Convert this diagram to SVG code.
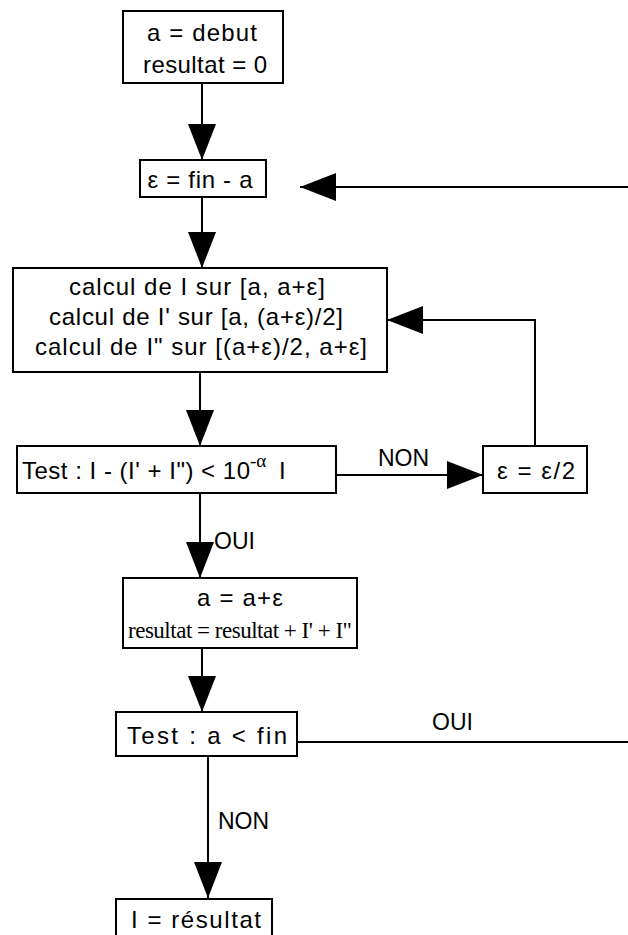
<svg xmlns="http://www.w3.org/2000/svg" width="628" height="935" viewBox="0 0 628 935">
<style>
.box{fill:#fff;stroke:#000;stroke-width:2}
.t{font-family:"Liberation Sans",Arial,sans-serif;font-size:24px;fill:#000;text-anchor:middle}
.ts{font-family:"Liberation Sans",Arial,sans-serif;font-size:24px;fill:#000}
.sup{font-family:"Liberation Serif","Times New Roman",serif;font-size:19px;fill:#000}
.s{font-family:"Liberation Serif","Times New Roman",serif;font-size:23px;fill:#000;text-anchor:middle}
.lbl{font-family:"Liberation Sans",Arial,sans-serif;font-size:23px;fill:#000}
.c{fill:none;stroke:#000;stroke-width:2}
</style>
<defs>
<marker id="ah" markerUnits="userSpaceOnUse" markerWidth="40" markerHeight="30" refX="36" refY="14" orient="auto">
<path d="M0,0 L36,14 L0,28 z" fill="#000"/>
</marker>
</defs>
<rect width="628" height="935" fill="#fff"/>
<g id="connectors">
<path class="c" d="M202,83 V160" marker-end="url(#ah)"/>
<path class="c" d="M628,187 H300" marker-end="url(#ah)"/>
<path class="c" d="M202,197 V268" marker-end="url(#ah)"/>
<path class="c" d="M535,446 V320 H387" marker-end="url(#ah)"/>
<path class="c" d="M200,372 V446" marker-end="url(#ah)"/>
<path class="c" d="M336,475 H483" marker-end="url(#ah)"/>
<path class="c" d="M200,493 V578" marker-end="url(#ah)"/>
<path class="c" d="M202,648 V712" marker-end="url(#ah)"/>
<path class="c" d="M297,742 H628"/>
<path class="c" d="M208,756 V898" marker-end="url(#ah)"/>
<text class="lbl" x="378" y="466">NON</text>
<text class="lbl" x="214" y="549">OUI</text>
<text class="lbl" x="432" y="730">OUI</text>
<text class="lbl" x="218" y="829">NON</text>
</g>
<g id="n1">
<rect class="box" x="123" y="11" width="160" height="72"/>
<text class="t" x="202" y="41" textLength="110">a = debut</text>
<text class="t" x="205" y="73" textLength="124">resultat = 0</text>
</g>
<g id="n2">
<rect class="box" x="140" y="160" width="126" height="37"/>
<text class="t" x="200" y="188" textLength="105">ε = fin - a</text>
</g>
<g id="n3">
<rect class="box" x="13" y="268" width="374" height="104"/>
<text class="t" x="197" y="295" textLength="256">calcul de I sur [a, a+ε]</text>
<text class="t" x="196" y="325" textLength="294">calcul de I' sur [a, (a+ε)/2]</text>
<text class="t" x="201" y="355" textLength="332">calcul de I" sur [(a+ε)/2, a+ε]</text>
</g>
<g id="n4">
<rect class="box" x="17" y="446" width="319" height="47"/>
<text class="ts" x="22" y="479" textLength="228">Test : I - (I' + I") &lt; 10</text>
<text class="sup" x="250" y="467">-α</text>
<text class="ts" x="279" y="479">I</text>
</g>
<g id="n5">
<rect class="box" x="483" y="446" width="104" height="47"/>
<text class="t" x="536" y="479" textLength="78">ε = ε/2</text>
</g>
<g id="n6">
<rect class="box" x="123" y="578" width="234" height="70"/>
<text class="t" x="240" y="606" textLength="86">a = a+ε</text>
<text class="s" x="240" y="638" textLength="224">resultat = resultat + I' + I"</text>
</g>
<g id="n7">
<rect class="box" x="116" y="712" width="181" height="44"/>
<text class="t" x="207" y="744" textLength="160">Test : a &lt; fin</text>
</g>
<g id="n8">
<rect class="box" x="116" y="899" width="156" height="40"/>
<text class="t" x="196" y="928" textLength="130">I = résultat</text>
</g>
</svg>
